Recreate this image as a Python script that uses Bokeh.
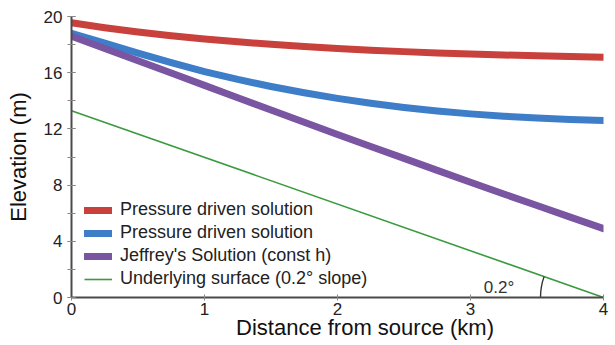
from bokeh.plotting import figure
from bokeh.models import Range1d, SingleIntervalTicker, Legend, LegendItem, Label
from bokeh.embed import file_html
from bokeh.resources import INLINE
import math

# ---- data ----
distance_km = [0.0, 0.25, 0.5, 0.75, 1.0, 1.25, 1.5, 1.75, 2.0,
               2.25, 2.5, 2.75, 3.0, 3.25, 3.5, 3.75, 4.0]
pressure_red = [19.55, 19.2, 18.9, 18.63, 18.4, 18.2, 18.02, 17.86, 17.72,
                17.6, 17.5, 17.41, 17.33, 17.26, 17.2, 17.15, 17.1]
pressure_blue = [18.8, 18.1, 17.4, 16.72, 16.08, 15.52, 15.02, 14.57, 14.17,
                 13.82, 13.52, 13.27, 13.07, 12.9, 12.77, 12.67, 12.6]
jeffreys = [18.6, 17.72, 16.85, 15.98, 15.1, 14.22, 13.35, 12.47, 11.6,
            10.75, 9.9, 9.05, 8.2, 7.37, 6.55, 5.72, 4.9]
surface_x = [0.0, 4.0]
surface_y = [13.3, 0.0]

legend_labels = ["Pressure driven solution", "Pressure driven solution",
                 "Jeffrey's Solution (const h)", "Underlying surface (0.2\u00b0 slope)"]
x_title = "Distance from source (km)"
y_title = "Elevation (m)"
angle_text = "0.2\u00b0"

RED = "#c9413c"
BLUE = "#3e7dc8"
PURPLE = "#7a55a2"
GREEN = "#3a9a3e"
AXIS = "#4a4a4a"
FONT = "Liberation Sans"

p = figure(frame_width=532, frame_height=281, output_backend="svg", toolbar_location=None,
           x_range=Range1d(0, 4), y_range=Range1d(0, 20),
           min_border_left=71, min_border_right=12, min_border_top=16, min_border_bottom=48)
p.outline_line_color = None
p.grid.grid_line_color = None
p.background_fill_color = "white"

r_red = p.line(distance_km, pressure_red, line_color=RED, line_width=7, line_cap="round", line_join="round")
r_blue = p.line(distance_km, pressure_blue, line_color=BLUE, line_width=7, line_cap="round", line_join="round")
r_purple = p.line(distance_km, jeffreys, line_color=PURPLE, line_width=7, line_cap="round", line_join="round")
r_green = p.line(surface_x, surface_y, line_color=GREEN, line_width=1.6)

# angle arc at the end of the surface line
dx_px = 532.0
dy_px = (surface_y[0] - surface_y[1]) / 20.0 * 281.0
ang = math.atan2(dy_px, dx_px)
p.arc(x=[surface_x[-1]], y=[surface_y[-1]], radius=63, radius_units="screen",
      start_angle=math.pi - ang, end_angle=math.pi, line_color="#333333", line_width=1.4)
p.add_layout(Label(x=3.10, y=0.72, text=angle_text, text_font=FONT, text_font_size="17px",
                   text_color="#333333", text_baseline="alphabetic", text_align="left"))

# axes
xa = p.xaxis[0]
ya = p.yaxis[0]
xa.ticker = SingleIntervalTicker(interval=1, num_minor_ticks=0)
ya.ticker = SingleIntervalTicker(interval=4, num_minor_ticks=2)
for ax in (xa, ya):
    ax.axis_line_color = AXIS
    ax.axis_line_width = 2
    ax.major_tick_line_color = "#888888"
    ax.minor_tick_line_color = "#888888"
    ax.major_label_text_font = FONT
    ax.major_label_text_font_size = "17px"
    ax.major_label_text_color = "#222222"
    ax.axis_label_text_font = FONT
    ax.axis_label_text_font_style = "normal"
    ax.axis_label_text_font_size = "22px"
    ax.axis_label_text_color = "#111111"
xa.major_tick_in = 3
xa.major_tick_out = 3
xa.minor_tick_line_color = None
xa.major_label_standoff = 2
xa.axis_label = "\u00a0" * 9 + x_title
xa.axis_label_standoff = -3
ya.major_tick_in = 4
ya.major_tick_out = 4
ya.minor_tick_in = 4
ya.minor_tick_out = 4
ya.major_label_standoff = 5
ya.axis_label = y_title
ya.axis_label_standoff = 10

legend = Legend(items=[LegendItem(label=legend_labels[0], renderers=[r_red]),
                       LegendItem(label=legend_labels[1], renderers=[r_blue]),
                       LegendItem(label=legend_labels[2], renderers=[r_purple]),
                       LegendItem(label=legend_labels[3], renderers=[r_green])],
                location=(13, 8), padding=0, margin=0, spacing=2,
                glyph_width=28, glyph_height=20, label_height=20, label_standoff=8,
                label_text_font=FONT, label_text_font_size="18px", label_text_color="#222222",
                border_line_color=None, background_fill_alpha=0)
p.add_layout(legend)

open("out.html", "w").write(file_html(p, INLINE))
